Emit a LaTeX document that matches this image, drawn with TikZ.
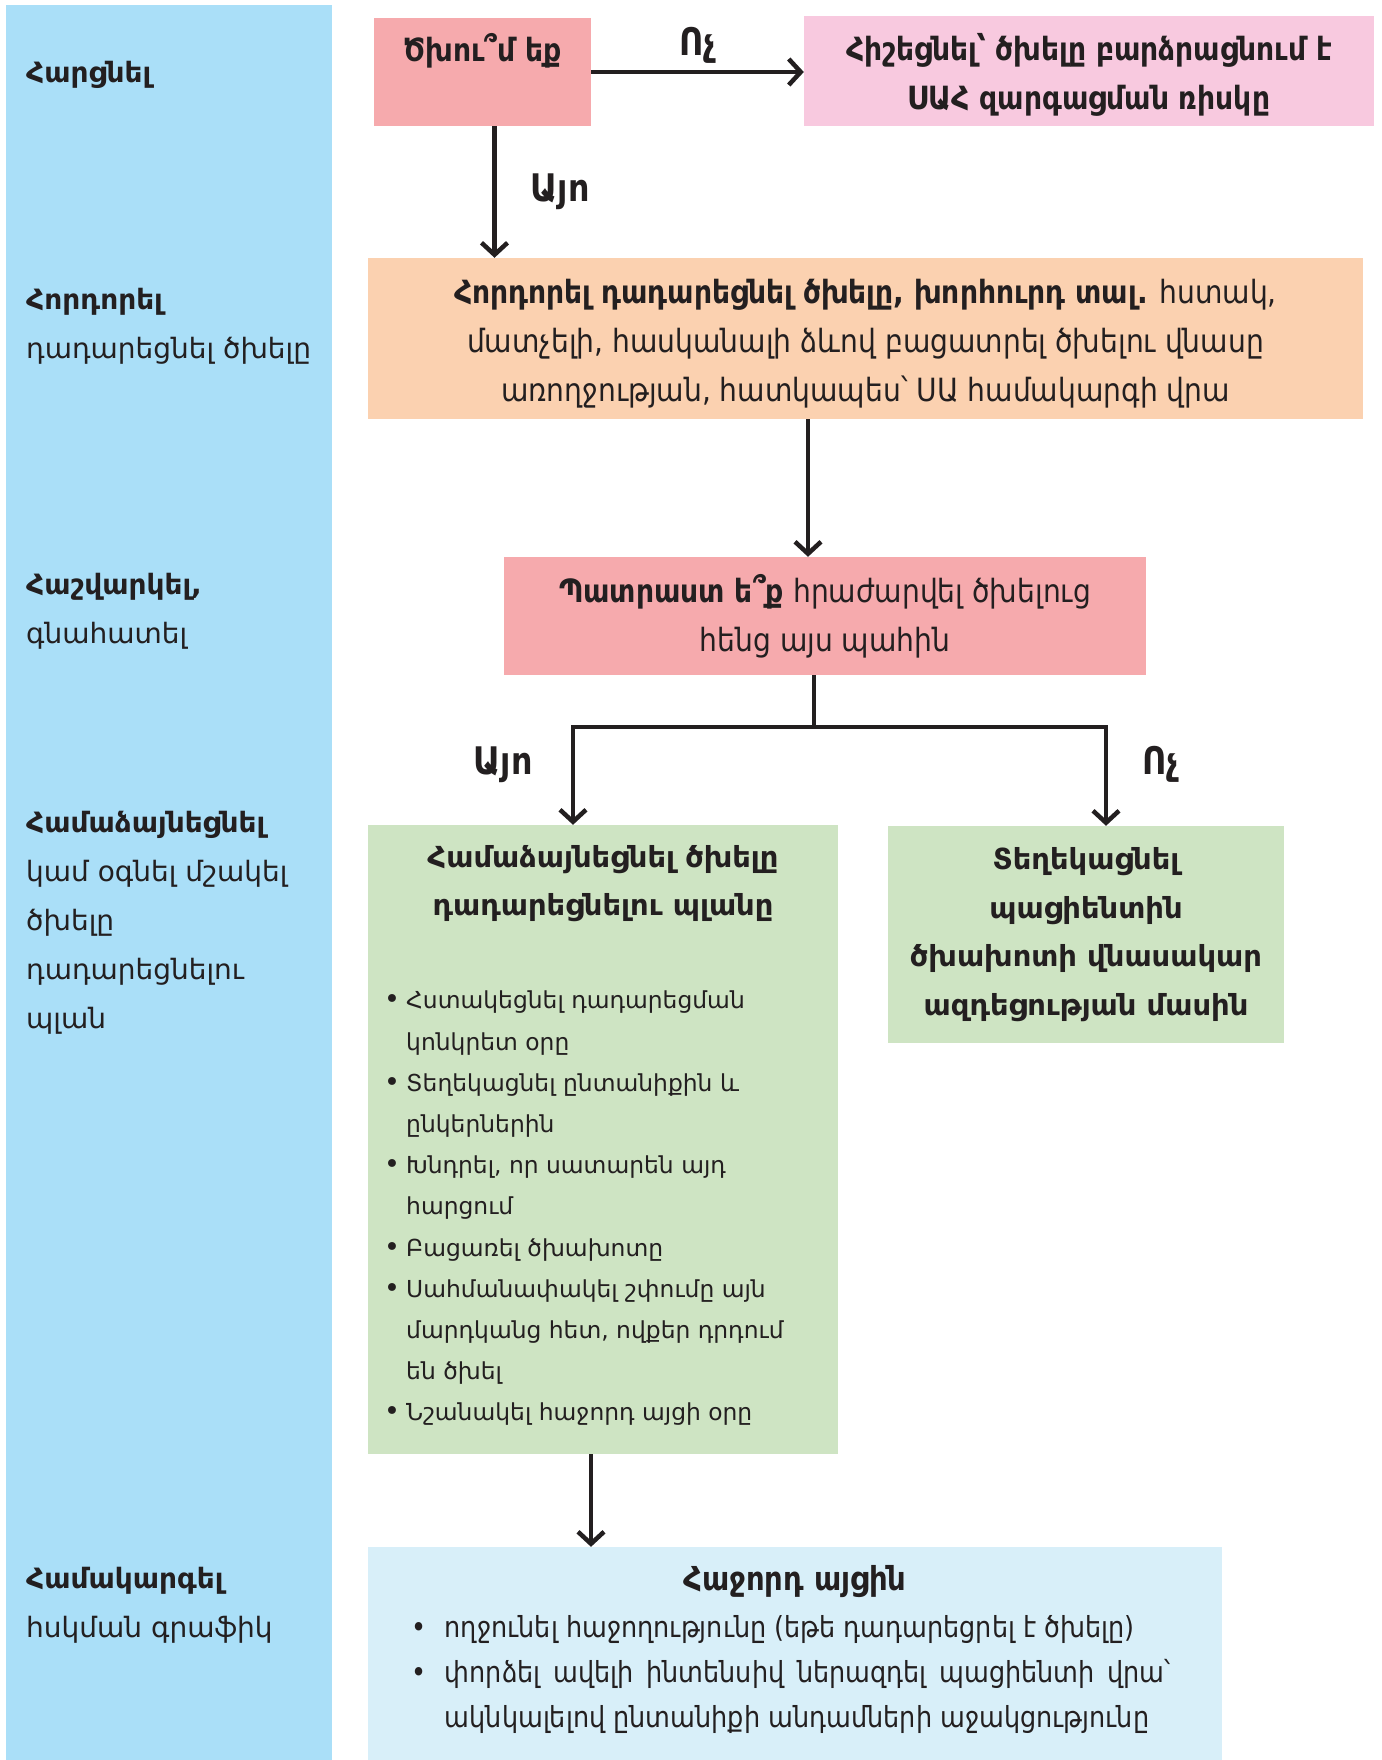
\documentclass[tikz,border=0pt]{standalone}
\usepackage{fontspec}
\setmainfont{DejaVu Sans}
\newfontfamily\narrowfont[FakeStretch=0.88]{DejaVu Sans}
\usetikzlibrary{positioning,arrows.meta}

\definecolor{colblue}{RGB}{170,223,248}
\definecolor{askpink}{RGB}{246,170,173}
\definecolor{softpink}{RGB}{248,201,223}
\definecolor{urgeorange}{RGB}{251,209,176}
\definecolor{plangreen}{RGB}{206,228,195}
\definecolor{nextblue}{RGB}{216,239,249}
\definecolor{inkline}{RGB}{35,31,32}

\newcommand{\dotmark}{\makebox[22pt][l]{\fontsize{27}{27}\selectfont•}}
\newcommand{\dotgap}{\hspace*{22pt}}

\begin{document}
\begin{tikzpicture}[x=1pt, y=-1pt,
    >={Straight Barb[length=12pt,width=26pt]},
    link/.style={->, line width=4.5pt, draw=inkline},
    box/.style={rectangle, inner sep=0pt, align=center, text=inkline},
    narrowtext/.style={font=\narrowfont\fontsize{32}{49}\selectfont},
    lanetext/.style={anchor=north west, align=left, inner sep=0pt, text=inkline, font=\fontsize{28}{49}\selectfont},
    answer/.style={inner sep=0pt, text=inkline, font=\narrowfont\bfseries\fontsize{38}{40}\selectfont}]

	\useasboundingbox (0,0) rectangle (1381,1760);

	% left lane with the steps
	\node (lane) [rectangle, fill=colblue, inner sep=0pt, minimum width=326pt, minimum height=1755pt, anchor=north west] at (6,5) {};
	\node (lblask) [lanetext] at (26,61) {\textbf{Հարցնել}};
	\node (lblurge) [lanetext] at (26,288) {\textbf{Հորդորել}\\ դադարեցնել ծխելը};
	\node (lblassess) [lanetext] at (26,573) {\textbf{Հաշվարկել,}\\ գնահատել};
	\node (lblplan) [lanetext] at (26,811) {\textbf{Համաձայնեցնել}\\ կամ օգնել մշակել\\ ծխելը\\ դադարեցնելու\\ պլան};
	\node (lblsched) [lanetext] at (26,1567) {\textbf{Համակարգել}\\ հսկման գրաֆիկ};

	% boxes
	\node (ask) [box, fill=askpink, narrowtext, minimum width=217pt, minimum height=108pt] at (482.5,72) {\textbf{Ծխու՞մ եք}\\ \mbox{}};
	\node (remind) [box, fill=softpink, font=\narrowfont\bfseries\fontsize{32}{49}\selectfont, minimum width=570pt, minimum height=110pt] at (1089,71) {\rule{0pt}{34pt}Հիշեցնել՝ ծխելը բարձրացնում է\\ ՍԱՀ զարգացման ռիսկը};
	\node (urge) [box, fill=urgeorange, narrowtext, minimum width=995pt, minimum height=161pt] at (865.5,338.5) {\rule{0pt}{34pt}\textbf{Հորդորել դադարեցնել ծխելը, խորհուրդ տալ.} հստակ,\\ մատչելի, հասկանալի ձևով բացատրել ծխելու վնասը\\ առողջության, հատկապես՝ ՍԱ համակարգի վրա};
	\node (ready) [box, fill=askpink, narrowtext, minimum width=642pt, minimum height=118pt] at (825,616) {\textbf{Պատրաստ ե՞ք} հրաժարվել ծխելուց\\ հենց այս պահին};
	\node (plan) [box, fill=plangreen, minimum width=470pt, minimum height=629pt] at (603,1139.5) {};
	\node (planhead) [box, font=\bfseries\fontsize{29}{48}\selectfont, below=20pt of plan.north] {Համաձայնեցնել ծխելը\\ դադարեցնելու պլանը};
	\node (plansteps) [anchor=north west, align=left, inner sep=0pt, text=inkline, font=\fontsize{23.4}{41.2}\selectfont] at (384,991) {\dotmark Հստակեցնել դադարեցման\\ \dotgap կոնկրետ օրը\\ \dotmark Տեղեկացնել ընտանիքին և\\ \dotgap ընկերներին\\ \dotmark Խնդրել, որ սատարեն այդ\\ \dotgap հարցում\\ \dotmark Բացառել ծխախոտը\\ \dotmark Սահմանափակել շփումը այն\\ \dotgap մարդկանց հետ, ովքեր դրդում\\ \dotgap են ծխել\\ \dotmark Նշանակել հաջորդ այցի օրը};
	\node (inform) [box, fill=plangreen, minimum width=396pt, minimum height=217pt, font=\bfseries\fontsize{29}{48.5}\selectfont] at (1086,934.5) {Տեղեկացնել\\ պացիենտին\\ ծխախոտի վնասակար\\ ազդեցության մասին};
	\node (next) [box, fill=nextblue, minimum width=854pt, minimum height=213pt] at (795,1653.5) {};
	\node (nexthead) [box, font=\narrowfont\bfseries\fontsize{33}{45}\selectfont, below=18pt of next.north] {Հաջորդ այցին};
	\node (nextsteps) [anchor=north west, inner sep=0pt, text width=726pt, align=justify, text=inkline, font=\narrowfont\fontsize{29}{45}\selectfont] at (444.6,1615) {\hyphenpenalty=10000\noindent\llap{•\hspace{18pt}}ողջունել հաջողությունը (եթե դադարեցրել է ծխելը)\par\noindent\llap{•\hspace{18pt}}փորձել ավելի ինտենսիվ ներազդել պացիենտի վրա՝\linebreak ակնկալելով ընտանիքի անդամների աջակցությունը};

	% connectors
	\draw[link] (ask.east) -- (ask.east -| remind.west) node[answer, midway, above=6pt] {Ոչ};
	\draw[link] ([xshift=12pt]ask.south) -- ([xshift=12pt]ask.south |- urge.north) node[answer, midway, right=34pt] {Այո};
	\draw[link] ([xshift=-57.5pt]urge.south) -- ([xshift=-57.5pt]urge.south |- ready.north);
	\draw[line width=4.5pt, draw=inkline] ([xshift=-11pt]ready.south) -- ++(0,52) coordinate (fork);
	\draw[link] (fork) -| ([xshift=-30pt]plan.north) node[answer, pos=0.69, left=38pt] {Այո};
	\draw[link] (fork) -| ([xshift=20pt]inform.north) node[answer, pos=0.69, right=34pt] {Ոչ};
	\draw[link] ([xshift=-12pt]plan.south) -- ([xshift=-12pt]plan.south |- next.north);

\end{tikzpicture}
\end{document}
